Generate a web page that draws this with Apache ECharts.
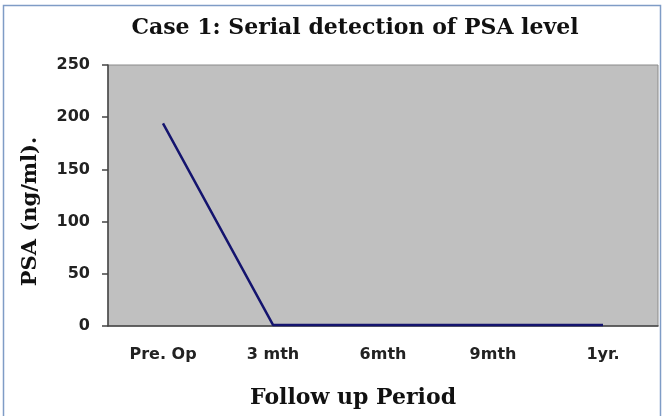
<!DOCTYPE html>
<html>
<head>
<meta charset="utf-8">
<script src="https://cdn.jsdelivr.net/npm/echarts@6/dist/echarts.min.js"></script>
<style>html,body{margin:0;padding:0;background:#fff;}#c{width:665px;height:416px;}</style>
</head>
<body>
<div id="c"></div>
<script>
const categories = ['Pre. Op', '3 mth', '6mth', '9mth', '1yr.'];
const psaValues = [194, 1, 1, 1, 1];
const yTicks = { min: 0, max: 250, interval: 50 };

const chart = echarts.init(document.getElementById('c'), null, { renderer: 'canvas' });
chart.setOption({
  animation: false,
  backgroundColor: '#ffffff',
  title: {
    text: 'Case 1: Serial detection of PSA level',
    left: 350, top: 12, textAlign: 'center',
    textStyle: { fontFamily: 'DejaVu Serif', fontWeight: 'bold', fontSize: 22, color: '#111' }
  },
  graphic: [{
    type: 'rect', shape: { x: 3.5, y: 5.5, width: 657, height: 420 },
    style: { fill: 'none', stroke: '#7f9cc6', lineWidth: 1.5 }, silent: true
  }],
  grid: {
    left: 108, right: 7, top: 65, bottom: 90,
    show: true, backgroundColor: '#c0c0c0', borderColor: '#8a8a8a', borderWidth: 1
  },
  xAxis: {
    type: 'category', data: categories, boundaryGap: true,
    name: 'Follow up Period', nameLocation: 'middle', nameGap: 61,
    nameTextStyle: { fontFamily: 'DejaVu Serif', fontWeight: 'bold', fontSize: 22, color: '#111', padding: [0, 60, 0, 0] },
    axisLine: { lineStyle: { color: '#444', width: 1.5 } },
    axisTick: { length: 5, lineStyle: { color: '#444', width: 1.5 } },
    axisLabel: { margin: 21, fontFamily: 'DejaVu Sans', fontWeight: 'bold', fontSize: 16, color: '#222' },
    splitLine: { show: false }
  },
  yAxis: {
    type: 'value', min: yTicks.min, max: yTicks.max, interval: yTicks.interval,
    name: 'PSA (ng/ml).', nameLocation: 'middle', nameGap: 67, nameRotate: 90,
    nameTextStyle: { fontFamily: 'DejaVu Serif', fontWeight: 'bold', fontSize: 21, color: '#111', padding: [0, 32, 0, 0] },
    axisLine: { show: true, lineStyle: { color: '#444', width: 1.5 } },
    axisTick: { show: true, length: 6, lineStyle: { color: '#444', width: 1.5 } },
    axisLabel: { margin: 18, fontFamily: 'DejaVu Sans', fontWeight: 'bold', fontSize: 16, color: '#222' },
    splitLine: { show: false }
  },
  series: [{
    type: 'line', data: psaValues, symbol: 'none',
    lineStyle: { color: '#14146e', width: 2.5 }
  }]
});
</script>
</body>
</html>
